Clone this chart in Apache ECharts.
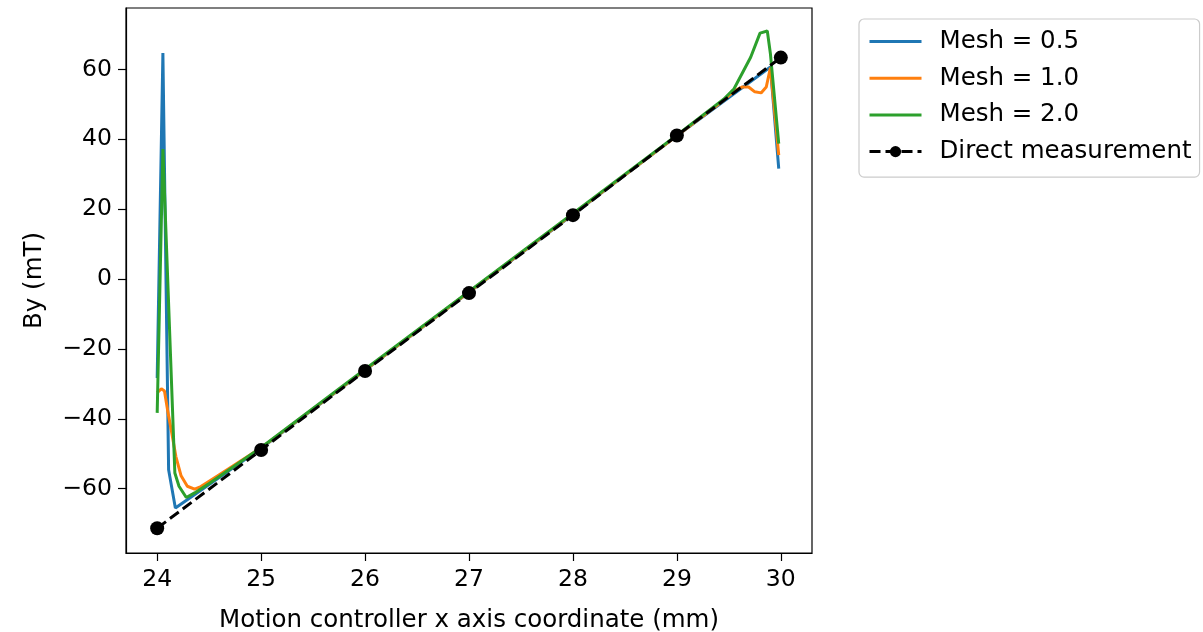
<!DOCTYPE html>
<html><head><meta charset="utf-8">
<script src="https://cdn.jsdelivr.net/npm/echarts@6/dist/echarts.min.js"></script>
<style>html,body{margin:0;padding:0;background:#fff}#c{width:1203px;height:632px}</style>
</head><body><div id="c"></div><script>
const xTicks = [24, 25, 26, 27, 28, 29, 30];
const yTicks = [-60, -40, -20, 0, 20, 40, 60];
const mesh05 = [[24.0,-28.3],[24.055,64.7],[24.11,-54.6],[24.175,-65.5],[24.5,-58.8],[25,-48.4],[26,-26.1],[27,-3.8],[28,18.5],[29,41.0],[29.5,52.0],[29.9,60.7],[29.98,31.6]];
const mesh10 = [[24.0,-32.5],[24.04,-31.4],[24.07,-32.0],[24.10,-37.5],[24.14,-44.0],[24.18,-50.8],[24.23,-56.3],[24.29,-59.3],[24.36,-60.1],[24.42,-59.4],[24.53,-57.3],[24.65,-55.0],[25,-48.3],[26,-26.0],[27,-3.7],[28,18.6],[29,41.0],[29.45,51.2],[29.55,53.8],[29.63,55.0],[29.69,55.0],[29.75,53.6],[29.81,53.3],[29.86,55.0],[29.9,60.5],[29.98,35.5]];
const mesh20 = [[24.0,-38.3],[24.055,37.2],[24.17,-55.5],[24.21,-59.3],[24.28,-62.5],[24.36,-61.2],[24.5,-58.5],[25,-48.2],[26,-25.8],[27,-3.5],[28,18.8],[29,41.2],[29.45,51.5],[29.55,54.5],[29.71,63.5],[29.80,70.4],[29.87,71.0],[29.9,64.5],[29.98,38.8]];
const directX = [24, 25, 26, 27, 28, 29, 30];
const directY = [-71.3, -48.9, -26.3, -4.0, 18.3, 41.1, 63.4];

const FONT = 'DejaVu Sans';
const FS_TICK = 23.5;
const FS_TEXT = 24.5;
const fmt = v => String(v).replace('-', '\u2212');
const chart = echarts.init(document.getElementById('c'), null, {renderer: 'canvas'});
chart.setOption({
  animation: false,
  backgroundColor: '#fff',
  textStyle: {fontFamily: FONT},
  grid: {left: 126, top: 8, width: 686, height: 545, show: true, borderColor: '#000', borderWidth: 1.2,
         containLabel: false, outerBoundsMode: 'none'},
  legend: {
    orient: 'vertical', left: 859, top: 19,
    padding: [10, 8, 13, 9],
    itemWidth: 52, itemHeight: 14, itemGap: 11.7,
    borderColor: '#cccccc', borderWidth: 1.2, borderRadius: 5,
    lineStyle: {width: 3},
    textStyle: {fontFamily: FONT, fontSize: FS_TEXT, color: '#000', lineHeight: 25, padding: [0, 0, 0, 13]},
    data: [
      {name: 'Mesh = 0.5', itemStyle: {opacity: 0}},
      {name: 'Mesh = 1.0', itemStyle: {opacity: 0}},
      {name: 'Mesh = 2.0', itemStyle: {opacity: 0}},
      {name: 'Direct measurement'}
    ]
  },
  xAxis: {
    type: 'value', min: 23.7, max: 30.3,
    name: 'Motion controller x axis coordinate (mm)', nameLocation: 'middle', nameGap: 55,
    nameTextStyle: {fontFamily: FONT, fontSize: FS_TEXT, color: '#000'},
    axisLine: {show: true, onZero: false, lineStyle: {color: '#000', width: 1.2}},
    axisTick: {show: true, length: 8, customValues: xTicks, lineStyle: {color: '#000', width: 1.2}},
    axisLabel: {customValues: xTicks, color: '#000', fontFamily: FONT, fontSize: FS_TICK, margin: 15, formatter: fmt},
    splitLine: {show: false}
  },
  yAxis: {
    type: 'value', min: -78.4, max: 77.6,
    name: 'By (mT)', nameLocation: 'middle', nameGap: 79, nameRotate: 90,
    nameTextStyle: {fontFamily: FONT, fontSize: FS_TEXT, color: '#000'},
    axisLine: {show: true, onZero: false, lineStyle: {color: '#000', width: 1.2}},
    axisTick: {show: true, length: 8, customValues: yTicks, lineStyle: {color: '#000', width: 1.2}},
    axisLabel: {customValues: yTicks, color: '#000', fontFamily: FONT, fontSize: FS_TICK, margin: 14, formatter: fmt},
    splitLine: {show: false}
  },
  series: [
    {name: 'Mesh = 0.5', type: 'line', data: mesh05, symbol: 'none', lineStyle: {color: '#1f77b4', width: 3}, itemStyle: {color: '#1f77b4'}},
    {name: 'Mesh = 1.0', type: 'line', data: mesh10, symbol: 'none', lineStyle: {color: '#ff7f0e', width: 3}, itemStyle: {color: '#ff7f0e'}},
    {name: 'Mesh = 2.0', type: 'line', data: mesh20, symbol: 'none', lineStyle: {color: '#2ca02c', width: 3}, itemStyle: {color: '#2ca02c'}},
    {name: 'Direct measurement', type: 'line', data: directX.map((x, i) => [x, directY[i]]),
     symbol: 'circle', symbolSize: 14, showSymbol: true,
     lineStyle: {color: '#000', width: 3, type: [11, 5]}, itemStyle: {color: '#000'}}
  ]
});
</script></body></html>
